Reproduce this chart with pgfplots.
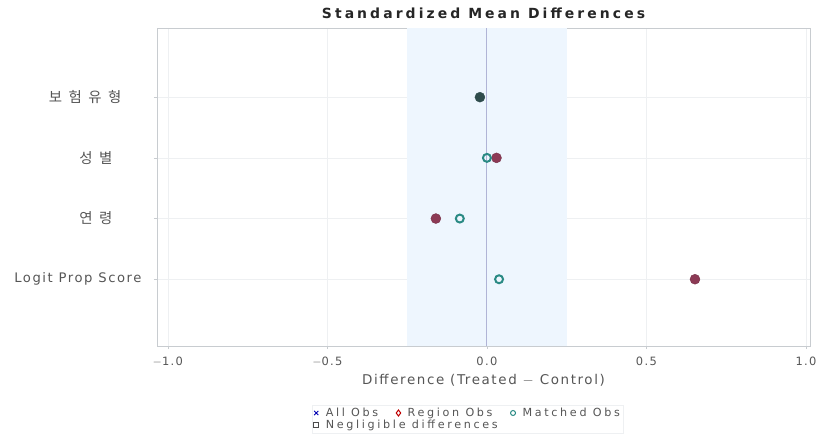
\documentclass[border=0pt]{standalone}
\usepackage{pgfplots}
\pgfplotsset{compat=1.18}
\usepackage{fontspec}
\setmainfont[LetterSpace=12]{DejaVu Sans}
\newfontfamily\kr[LetterSpace=45]{Noto Sans CJK KR}
\newfontfamily\legfont[LetterSpace=24]{DejaVu Sans}
\newfontfamily\titlefont[LetterSpace=22]{DejaVu Sans}
\definecolor{band}{HTML}{EEF6FE}
\definecolor{regc}{HTML}{8C3A55}
\definecolor{matc}{HTML}{2A8A84}
\definecolor{both}{HTML}{2F4C4C}
\definecolor{gridc}{HTML}{EEF0F2}
\definecolor{axc}{HTML}{C8CCD0}
\definecolor{txt}{HTML}{555555}
\begin{document}
\begin{tikzpicture}
\begin{axis}[
  scale only axis, width=653bp, height=318bp,
  xmin=-1.034, xmax=1.0125, ymin=-0.10, ymax=5.14,
  xtick={-1,-0.5,0,0.5,1},
  xticklabels={$-$1.0,$-$0.5,0.0,0.5,1.0},
  ytick={1,2,3,4},
  yticklabels={Logit Prop Score,{\kr\fontsize{14.5}{15}\selectfont 연령\kern29bp},{\kr\fontsize{14.5}{15}\selectfont 성별\kern29bp},{\kr\fontsize{14.5}{15}\selectfont 보험유형\kern20bp}},
  tick label style={font=\fontsize{11.5}{13}\selectfont, text=txt},
  yticklabel style={font=\fontsize{13.2}{14}\selectfont, text=txt, xshift=-9bp},
  xticklabel style={yshift=-4bp},
  tick align=outside, tick pos=left,
  major tick length=3bp,
  tick style={axc},
  axis line style={axc, line width=0.8pt},
  grid=major, major grid style={gridc, line width=0.6pt},
  title={Standardized Mean Differences},
  title style={font=\titlefont\bfseries\fontsize{14}{15}\selectfont, yshift=0bp, text=black!85},
  xlabel={Difference (Treated $-$ Control)},
  xlabel style={font=\fontsize{13.5}{14}\selectfont, text=txt, yshift=-1bp},
  legend columns=3,
  legend style={at={(0.238,-0.185)}, anchor=north west, draw=gridc, font=\legfont\fontsize{11.2}{12}\selectfont, text=txt,
    row sep=-2bp, inner sep=1bp, legend cell align=left,
    /tikz/every odd column/.append style={column sep=5bp},
    /tikz/every even column/.append style={column sep=16bp}},
  legend image code/.code={\draw[#1] plot coordinates {(0.13cm,0cm)};},
  clip=false,
]
\addplot[fill=band, draw=none, forget plot] coordinates {(-0.25,-0.10) (0.25,-0.10) (0.25,5.14) (-0.25,5.14)} -- cycle;
\addplot[color=blue!12!axc, line width=0.9pt, forget plot] coordinates {(0,-0.10) (0,5.14)};
\addlegendimage{only marks, mark=x, mark size=3pt, color=blue!70!black, line width=0.9pt}
\addlegendentry{All Obs}
\addlegendimage{only marks, mark=diamond, mark size=3pt, color=red!75!black, line width=1pt}
\addlegendentry{Region Obs}
\addlegendimage{only marks, mark=o, mark size=2.5pt, color=matc, line width=1pt}
\addlegendentry{Matched Obs}
\addlegendimage{only marks, mark=square, mark size=2.6pt, color=black!70, line width=0.8pt}
\addlegendentry{\makebox[0pt][l]{Negligible differences}}
% Region Obs
\addplot[only marks, mark=*, mark size=5pt, color=regc, mark options={fill=regc, draw=regc!85!black}, forget plot]
  coordinates {(0.652,1) (-0.16,2) (0.03,3)};
% Matched Obs
\addplot[only marks, mark=o, mark size=4pt, line width=2pt, color=matc, mark options={fill=white!80!matc}, forget plot]
  coordinates {(0.038,1) (-0.085,2) (0.0,3)};
% Overlapping region + matched
\addplot[only marks, mark=*, mark size=5pt, color=both, mark options={fill=both}, forget plot]
  coordinates {(-0.022,4)};
\end{axis}
\pgfresetboundingbox
\path (-157bp,-88bp) rectangle (662bp,346bp);
\end{tikzpicture}
\end{document}
